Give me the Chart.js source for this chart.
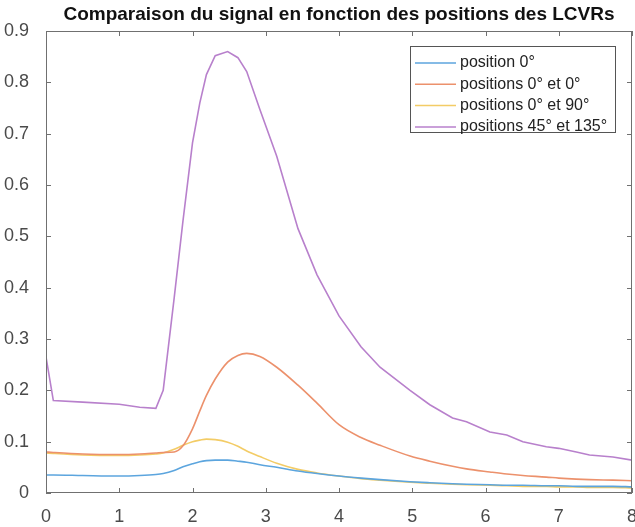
<!DOCTYPE html>
<html>
<head>
<meta charset="utf-8">
<script src="https://cdn.jsdelivr.net/npm/chart.js@4/dist/chart.umd.min.js"></script>
<style>
  body { margin: 0; background: #fff; }
  #wrap { width: 635px; height: 527px; }
</style>
</head>
<body>
<div id="wrap"><canvas id="myChart" width="635" height="527"></canvas></div>
<script>
const chartTitle = "Comparaison du signal en fonction des positions des LCVRs";
const seriesLabels = ["position 0°", "positions 0° et 0°", "positions 0° et 90°", "positions 45° et 135°"];
const xTicks = [0, 1, 2, 3, 4, 5, 6, 7, 8];
const yTicks = [0, 0.1, 0.2, 0.3, 0.4, 0.5, 0.6, 0.7, 0.8, 0.9];

const xValues = [0, 0.1, 0.5, 1, 1.28, 1.5, 1.6, 1.75, 1.87, 2.0, 2.1, 2.19, 2.31, 2.48, 2.62, 2.74, 2.92, 3.15, 3.44, 3.7,
  4.0, 4.3, 4.56, 4.97, 5.24, 5.55, 5.74, 6.06, 6.29, 6.51, 6.83, 7.0, 7.24, 7.42, 7.74, 8.0];

const position0 = [0.035, 0.035, 0.034, 0.033, 0.034, 0.036, 0.038, 0.044, 0.051, 0.057, 0.061, 0.063, 0.064, 0.064, 0.062, 0.06, 0.055, 0.05, 0.043, 0.038,
  0.033, 0.029, 0.026, 0.022, 0.02, 0.018, 0.017, 0.016, 0.015, 0.015, 0.014, 0.014, 0.013, 0.013, 0.013, 0.012];
const positions0et0 = [0.08, 0.079, 0.076, 0.075, 0.076, 0.078, 0.079, 0.08, 0.092, 0.125, 0.16, 0.19, 0.222, 0.255, 0.268, 0.272, 0.266, 0.245, 0.21, 0.175,
  0.133, 0.108, 0.093, 0.072, 0.062, 0.052, 0.047, 0.041, 0.037, 0.034, 0.031, 0.029, 0.027, 0.026, 0.025, 0.024];
const positions0et90 = [0.078, 0.077, 0.074, 0.073, 0.074, 0.076, 0.078, 0.085, 0.093, 0.1, 0.103, 0.105, 0.104, 0.099, 0.091, 0.082, 0.071, 0.058, 0.046, 0.039,
  0.033, 0.028, 0.025, 0.021, 0.019, 0.017, 0.016, 0.015, 0.014, 0.013, 0.013, 0.012, 0.012, 0.011, 0.011, 0.01];
const positions45et135 = [0.265, 0.18, 0.177, 0.173, 0.167, 0.165, 0.2, 0.38, 0.53, 0.682, 0.76, 0.815, 0.852, 0.86, 0.848, 0.821, 0.747, 0.656, 0.515, 0.425,
  0.345, 0.285, 0.245, 0.2, 0.172, 0.146, 0.139, 0.119, 0.113, 0.1, 0.09, 0.087, 0.08, 0.074, 0.07, 0.064];

const colors = ["rgb(92,165,222)", "rgb(236,145,108)", "rgb(243,204,102)", "rgb(184,128,204)"];
const fontFamily = "'Liberation Sans', Arial, sans-serif";

function toPoints(ys) {
  return ys.map((y, i) => ({ x: xValues[i], y: y }));
}

// title, box, inward ticks and legend, drawn after the lines
const decorPlugin = {
  id: "decor",
  afterDraw(chart) {
    const ctx = chart.ctx;
    const area = chart.chartArea;
    const xs = chart.scales.x;
    const ys = chart.scales.y;
    ctx.save();

    ctx.fillStyle = "#111";
    ctx.font = "bold 19px " + fontFamily;
    ctx.textAlign = "center";
    ctx.textBaseline = "middle";
    ctx.fillText(chartTitle, (area.left + area.right) / 2, 15);

    ctx.strokeStyle = "#707070";
    ctx.lineWidth = 1;
    ctx.strokeRect(area.left + 0.5, area.top + 0.5, area.right - area.left - 1, area.bottom - area.top - 1);
    ctx.beginPath();
    xTicks.forEach((v) => {
      const px = Math.round(xs.getPixelForValue(v)) + 0.5;
      ctx.moveTo(px, area.bottom);
      ctx.lineTo(px, area.bottom - 5);
      ctx.moveTo(px, area.top);
      ctx.lineTo(px, area.top + 5);
    });
    yTicks.forEach((v) => {
      const py = Math.round(ys.getPixelForValue(v)) + 0.5;
      ctx.moveTo(area.left, py);
      ctx.lineTo(area.left + 5, py);
      ctx.moveTo(area.right, py);
      ctx.lineTo(area.right - 5, py);
    });
    ctx.stroke();

    const lx = 410, ly = 46, lw = 205, lh = 86;
    ctx.fillStyle = "#fff";
    ctx.fillRect(lx, ly, lw, lh);
    ctx.strokeStyle = "#555";
    ctx.strokeRect(lx + 0.5, ly + 0.5, lw, lh);
    ctx.font = "16px " + fontFamily;
    ctx.textAlign = "left";
    chart.data.datasets.forEach((ds, i) => {
      const y = ly + 17 + i * 21.3;
      ctx.strokeStyle = ds.borderColor;
      ctx.lineWidth = 1.5;
      ctx.beginPath();
      ctx.moveTo(lx + 5, y);
      ctx.lineTo(lx + 46, y);
      ctx.stroke();
      ctx.fillStyle = "#222";
      ctx.fillText(ds.label, lx + 50, y);
    });
    ctx.restore();
  },
};

function initChart() {
  const ctx = document.getElementById("myChart");
  const seriesList = [position0, positions0et0, positions0et90, positions45et135];

  return new Chart(ctx, {
    type: "line",
    data: {
      datasets: seriesList.map((ys, i) => ({
        label: seriesLabels[i],
        data: toPoints(ys),
        borderColor: colors[i],
        borderWidth: 1.6,
        pointRadius: 0,
        fill: false,
        cubicInterpolationMode: i === 3 ? "default" : "monotone",
        tension: 0,
      })),
    },
    options: {
      responsive: false,
      animation: false,
      layout: { padding: { top: 31, right: 3, left: 0, bottom: 0 } },
      plugins: { legend: { display: false }, tooltip: { enabled: false }, title: { display: false } },
      scales: {
        x: {
          type: "linear",
          min: 0,
          max: 8,
          afterFit: (s) => {
            s.height = 34;
            s.paddingLeft = 0;
            s.paddingRight = 0;
          },
          afterBuildTicks: (s) => { s.ticks = xTicks.map((v) => ({ value: v })); },
          grid: { display: false },
          border: { display: false },
          ticks: { color: "#4a4a4a", font: { family: fontFamily, size: 18 }, padding: 5 },
        },
        y: {
          min: 0,
          max: 0.9,
          afterFit: (s) => {
            s.width = 46;
            s.paddingTop = 0;
            s.paddingBottom = 0;
          },
          afterBuildTicks: (s) => { s.ticks = yTicks.map((v) => ({ value: v })); },
          grid: { display: false },
          border: { display: false },
          ticks: {
            color: "#4a4a4a",
            font: { family: fontFamily, size: 18 },
            padding: 9,
            callback: (v) => (v === 0 ? "0" : v.toFixed(1)),
          },
        },
      },
    },
    plugins: [decorPlugin],
  });
}

document.addEventListener("DOMContentLoaded", () => initChart());
</script>
</body>
</html>
